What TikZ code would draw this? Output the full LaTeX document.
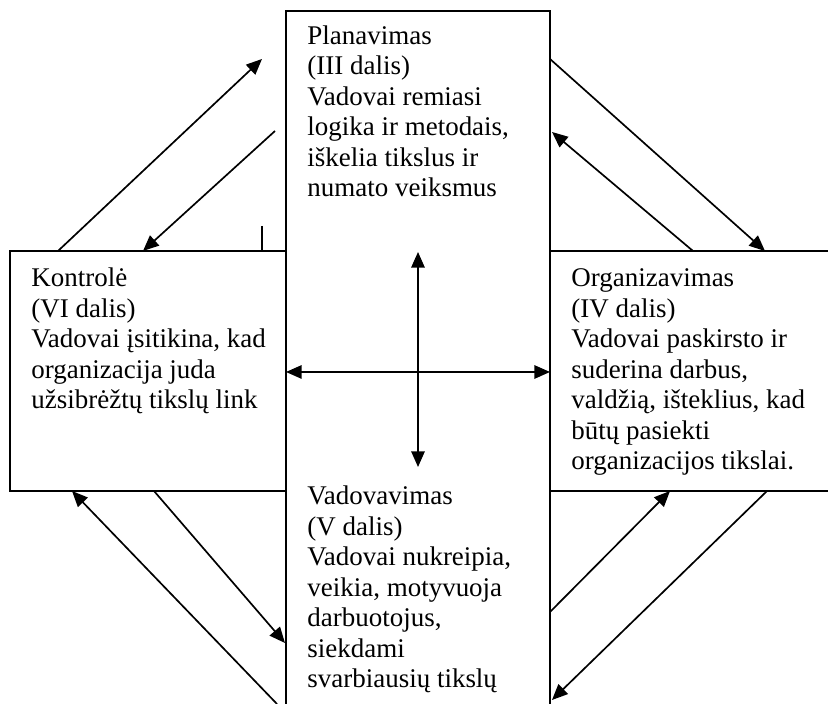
\documentclass[tikz,border=0pt]{standalone}
\usepackage{fontspec}
\setmainfont{Liberation Serif}
\usetikzlibrary{arrows.meta}
\begin{document}
\begin{tikzpicture}[x=0.445pt,y=-0.445pt,
  frame/.style={line width=0.9pt},
  % anchored at the baseline of the last line of each text
  label/.style={inner sep=0pt, anchor=base west, align=left,
    font=\fontsize{12}{13.6}\selectfont},
  tip/.tip={Triangle[length=7pt,width=6pt]},
  flow/.style={line width=0.75pt, -tip},
  twoway/.style={line width=0.75pt, tip-tip}]
\useasboundingbox (0,0) rectangle (828,704);

% central column (planning above, leading below)
\draw[frame] (286,704) |- (550,11) -- (550,704);
% control box on the left
\draw[frame] (286,251) -- (10,251) -- (10,491) -- (286,491);
\draw[frame] (262,226) -- (262,251);
% organizing box on the right
\draw[frame] (550,251) -- (828,251);
\draw[frame] (550,491) -- (828,491);

% texts
\node[label] (plan) at (307,197) {Planavimas\\(III dalis)\\Vadovai remiasi\\logika ir metodais,\\iškelia tikslus ir\\numato veiksmus};
\node[label] (kontr) at (31,409) {Kontrolė\\(VI dalis)\\Vadovai įsitikina, kad\\organizacija juda\\užsibrėžtų tikslų link};
\node[label] (org) at (571,470) {Organizavimas\\(IV dalis)\\Vadovai paskirsto ir\\suderina darbus,\\valdžią, išteklius, kad\\būtų pasiekti\\organizacijos tikslai.};
\node[label] (vad) at (307,688) {Vadovavimas\\(V dalis)\\Vadovai nukreipia,\\veikia, motyvuoja\\darbuotojus,\\siekdami\\svarbiausių tikslų};

% connector end points
\coordinate (kTopA) at (58,251);
\coordinate (pInA) at (262,59);
\coordinate (pOutA) at (275,131);
\coordinate (kTopB) at (143,251);
\coordinate (pRightA) at (550,59);
\coordinate (oTopA) at (765,251);
\coordinate (oTopB) at (693,251);
\coordinate (pRightB) at (552,132);
\coordinate (kBotA) at (154,491);
\coordinate (vLeftA) at (285,643);
\coordinate (vLowA) at (277,704);
\coordinate (kBotB) at (72,491);
\coordinate (vRightA) at (550,612);
\coordinate (oBotA) at (670,491);
\coordinate (oBotB) at (767,491);
\coordinate (vRightB) at (552,700);
\coordinate (hL) at (286,372);
\coordinate (hR) at (550,372);
\coordinate (vT) at (418,252);
\coordinate (vB) at (418,467);

% connectors
\draw[flow] (kTopA) -- (pInA);
\draw[flow] (pOutA) -- (kTopB);
\draw[flow] (pRightA) -- (oTopA);
\draw[flow] (oTopB) -- (pRightB);
\draw[flow] (kBotA) -- (vLeftA);
\draw[flow] (vLowA) -- (kBotB);
\draw[flow] (vRightA) -- (oBotA);
\draw[flow] (oBotB) -- (vRightB);
\draw[twoway] (hL) -- (hR);
\draw[twoway] (vT) -- (vB);
\end{tikzpicture}
\end{document}
